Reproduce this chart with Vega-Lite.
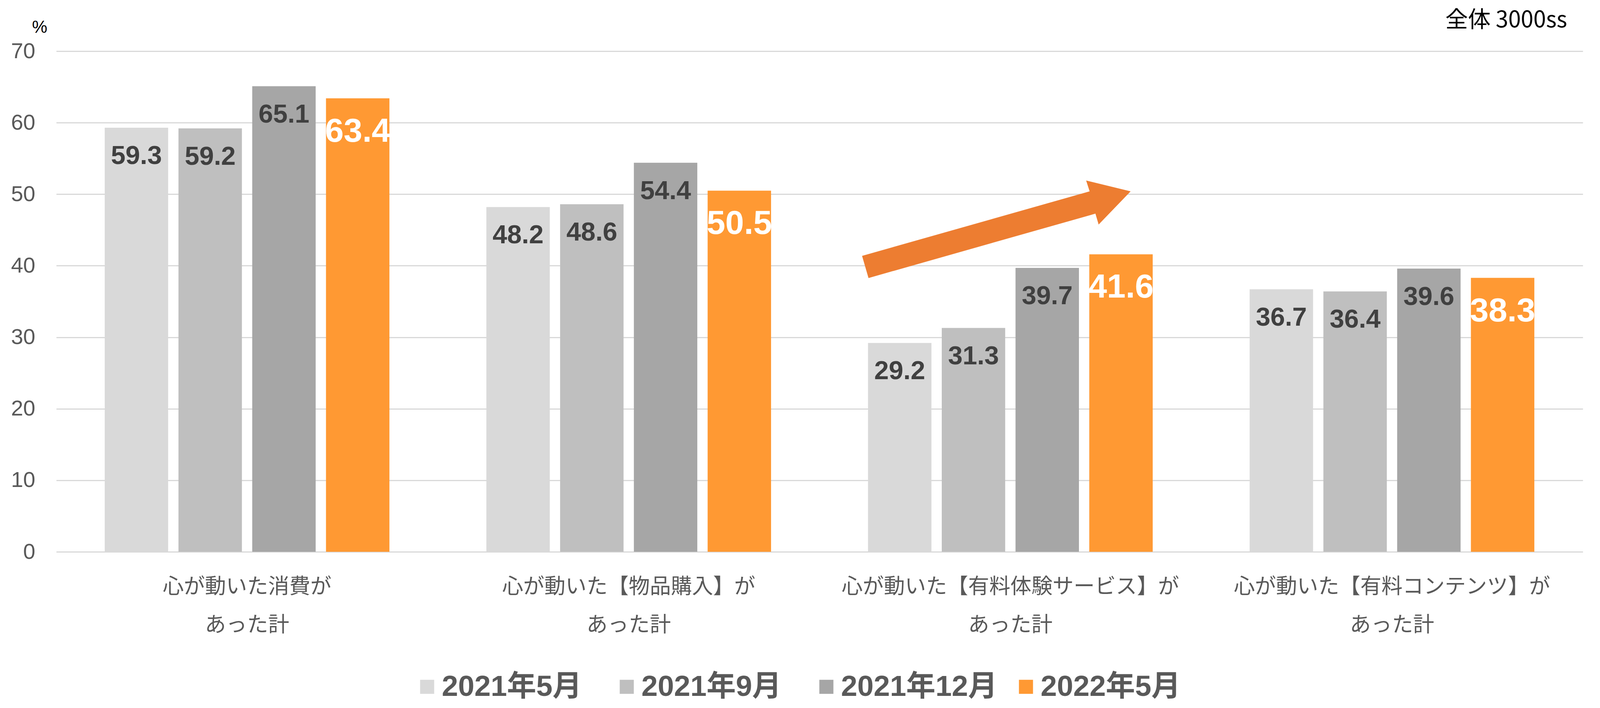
{
  "$schema": "https://vega.github.io/schema/vega-lite/v6.json",
  "width": 3908,
  "height": 1282,
  "autosize": {"type": "none"},
  "padding": {"left": 144, "top": 131, "right": 51, "bottom": 400},
  "background": "white",
  "config": {"view": {"stroke": null}, "font": "Liberation Sans"},
  "title": {
    "text": "全体 3000ss",
    "anchor": "end",
    "frame": "group",
    "orient": "top",
    "font": "Noto Sans CJK JP",
    "fontSize": 58,
    "fontWeight": "normal",
    "color": "#000000",
    "baseline": "alphabetic",
    "offset": -80,
    "dx": -40
  },
  "datasets": {
    "bars": [
      {"category": "心が動いた消費があった計", "period": "2021年5月", "value": 59.3},
      {"category": "心が動いた消費があった計", "period": "2021年9月", "value": 59.2},
      {"category": "心が動いた消費があった計", "period": "2021年12月", "value": 65.1},
      {"category": "心が動いた消費があった計", "period": "2022年5月", "value": 63.4},
      {"category": "心が動いた【物品購入】があった計", "period": "2021年5月", "value": 48.2},
      {"category": "心が動いた【物品購入】があった計", "period": "2021年9月", "value": 48.6},
      {"category": "心が動いた【物品購入】があった計", "period": "2021年12月", "value": 54.4},
      {"category": "心が動いた【物品購入】があった計", "period": "2022年5月", "value": 50.5},
      {"category": "心が動いた【有料体験サービス】があった計", "period": "2021年5月", "value": 29.2},
      {"category": "心が動いた【有料体験サービス】があった計", "period": "2021年9月", "value": 31.3},
      {"category": "心が動いた【有料体験サービス】があった計", "period": "2021年12月", "value": 39.7},
      {"category": "心が動いた【有料体験サービス】があった計", "period": "2022年5月", "value": 41.6},
      {"category": "心が動いた【有料コンテンツ】があった計", "period": "2021年5月", "value": 36.7},
      {"category": "心が動いた【有料コンテンツ】があった計", "period": "2021年9月", "value": 36.4},
      {"category": "心が動いた【有料コンテンツ】があった計", "period": "2021年12月", "value": 39.6},
      {"category": "心が動いた【有料コンテンツ】があった計", "period": "2022年5月", "value": 38.3}
    ],
    "arrow": [
      {"category": "心が動いた【有料体験サービス】があった計", "value": 45.1}
    ]
  },
  "layer": [
    {
      "data": {"name": "bars"},
      "mark": {"type": "bar"},
      "encoding": {
        "x": {
          "field": "category",
          "type": "nominal",
          "scale": {
            "domain": [
              "心が動いた消費があった計",
              "心が動いた【物品購入】があった計",
              "心が動いた【有料体験サービス】があった計",
              "心が動いた【有料コンテンツ】があった計"
            ],
            "paddingInner": 0.254,
            "paddingOuter": 0.127
          },
          "axis": {
            "title": null,
            "labelAngle": 0,
            "labelExpr": "[replace(datum.label, 'あった計', ''), 'あった計']",
            "labelFont": "Noto Sans CJK JP",
            "labelFontSize": 54,
            "labelLineHeight": 98,
            "labelColor": "#595959",
            "labelPadding": 63,
            "labelLimit": 2000,
            "ticks": false,
            "domain": false
          }
        },
        "xOffset": {
          "field": "period",
          "type": "nominal",
          "scale": {
            "domain": ["2021年5月", "2021年9月", "2021年12月", "2022年5月"],
            "paddingInner": 0.14,
            "paddingOuter": 0
          }
        },
        "y": {
          "field": "value",
          "type": "quantitative",
          "scale": {"domain": [0, 70], "nice": false},
          "axis": {
            "values": [0, 10, 20, 30, 40, 50, 60, 70],
            "title": "%",
            "titleAngle": 0,
            "titleAlign": "center",
            "titleBaseline": "middle",
            "titleX": -43,
            "titleY": -61,
            "titleFont": "Liberation Sans",
            "titleFontSize": 44,
            "titleFontWeight": "normal",
            "titleColor": "#000000",
            "labelFont": "Liberation Sans",
            "labelFontSize": 56,
            "labelColor": "#595959",
            "labelPadding": 54,
            "ticks": false,
            "domain": false,
            "gridColor": "#D9D9D9",
            "gridWidth": 3
          }
        },
        "color": {
          "field": "period",
          "type": "nominal",
          "scale": {
            "domain": ["2021年5月", "2021年9月", "2021年12月", "2022年5月"],
            "range": ["#D9D9D9", "#BFBFBF", "#A6A6A6", "#FF9933"]
          },
          "legend": {
            "orient": "none",
            "legendX": 912,
            "legendY": 1590,
            "direction": "horizontal",
            "columns": 4,
            "gridAlign": "all",
            "title": null,
            "symbolType": "square",
            "symbolSize": 1300,
            "symbolStrokeWidth": 0,
            "labelFont": "Liberation Sans, Noto Sans CJK JP",
            "labelFontSize": 75,
            "labelFontWeight": "bold",
            "labelColor": "#595959",
            "labelLimit": 1000,
            "labelOffset": 0,
            "columnPadding": 35
          }
        }
      }
    },
    {
      "data": {"name": "bars"},
      "transform": [{"filter": "datum.period !== '2022年5月'"}],
      "mark": {
        "type": "text",
        "font": "Liberation Sans",
        "fontSize": 67,
        "fontWeight": "bold",
        "color": "#404040",
        "baseline": "middle",
        "align": "center",
        "dy": 73
      },
      "encoding": {
        "x": {"field": "category", "type": "nominal"},
        "xOffset": {"field": "period", "type": "nominal"},
        "y": {"field": "value", "type": "quantitative"},
        "text": {"field": "value", "type": "quantitative", "format": ".1f"}
      }
    },
    {
      "data": {"name": "bars"},
      "transform": [{"filter": "datum.period === '2022年5月'"}],
      "mark": {
        "type": "text",
        "font": "Liberation Sans",
        "fontSize": 86,
        "fontWeight": "bold",
        "color": "#FFFFFF",
        "baseline": "middle",
        "align": "center",
        "dy": 85
      },
      "encoding": {
        "x": {"field": "category", "type": "nominal"},
        "xOffset": {"field": "period", "type": "nominal"},
        "y": {"field": "value", "type": "quantitative"},
        "text": {"field": "value", "type": "quantitative", "format": ".1f"}
      }
    },
    {
      "data": {"name": "arrow"},
      "mark": {
        "type": "point",
        "shape": "M -1.1035 0.198 L 0.59 -0.282 L 0.564 -0.363 L 0.895 -0.282 L 0.657 -0.035 L 0.633 -0.116 L -1.0556 0.363 Z",
        "size": 473344,
        "filled": true,
        "color": "#ED7D31",
        "opacity": 1,
        "strokeWidth": 0
      },
      "encoding": {
        "x": {"field": "category", "type": "nominal"},
        "y": {"field": "value", "type": "quantitative"}
      }
    }
  ]
}
